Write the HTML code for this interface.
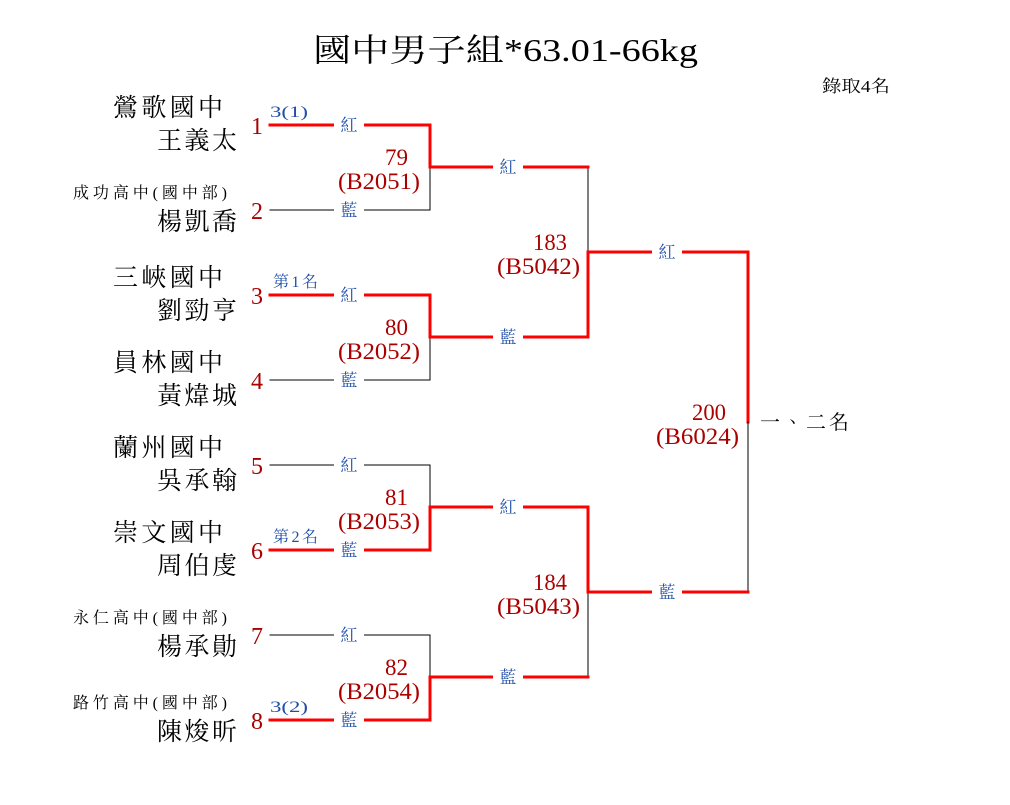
<!DOCTYPE html>
<html><head><meta charset="utf-8"><style>
html,body{margin:0;padding:0;background:#fff;}
svg{display:block;font-family:"Liberation Serif","Noto Serif CJK TC","Noto Serif CJK SC",serif;}
.s{font-size:25px;fill:#000;}
.ss{font-size:16px;fill:#000;}
.n{font-size:24px;fill:#a00;text-anchor:middle;}
.a{font-size:16px;fill:#1f4ea8;}
.l{font-size:17px;fill:#1f4ea8;text-anchor:middle;}
.m{font-size:23px;fill:#a00;}
</style></head><body>
<svg width="1010" height="805" viewBox="0 0 1010 805">
<text x="313" y="61" font-size="32" textLength="385" lengthAdjust="spacingAndGlyphs">國中男子組*63.01-66kg</text>
<text x="822" y="92" font-size="17" textLength="68" lengthAdjust="spacingAndGlyphs">錄取4名</text>

<!-- entries -->
<text class="s" x="113" y="116" textLength="110" lengthAdjust="spacing">鶯歌國中</text><text class="s" x="157" y="149" textLength="80" lengthAdjust="spacing">王義太</text>
<text class="ss" x="73" y="198" textLength="154" lengthAdjust="spacing">成功高中(國中部)</text><text class="s" x="157" y="230" textLength="80" lengthAdjust="spacing">楊凱喬</text>
<text class="s" x="113" y="286" textLength="110" lengthAdjust="spacing">三峽國中</text><text class="s" x="157" y="319" textLength="80" lengthAdjust="spacing">劉勁亨</text>
<text class="s" x="113" y="371" textLength="110" lengthAdjust="spacing">員林國中</text><text class="s" x="157" y="404" textLength="80" lengthAdjust="spacing">黃煒城</text>
<text class="s" x="113" y="456" textLength="110" lengthAdjust="spacing">蘭州國中</text><text class="s" x="157" y="489" textLength="80" lengthAdjust="spacing">吳承翰</text>
<text class="s" x="113" y="541" textLength="110" lengthAdjust="spacing">崇文國中</text><text class="s" x="157" y="574" textLength="80" lengthAdjust="spacing">周伯虔</text>
<text class="ss" x="73" y="623" textLength="154" lengthAdjust="spacing">永仁高中(國中部)</text><text class="s" x="157" y="655" textLength="80" lengthAdjust="spacing">楊承勛</text>
<text class="ss" x="73" y="708" textLength="154" lengthAdjust="spacing">路竹高中(國中部)</text><text class="s" x="157" y="740" textLength="80" lengthAdjust="spacing">陳焌昕</text>

<g>
<text class="n" x="257" y="134">1</text><text class="n" x="257" y="219">2</text>
<text class="n" x="257" y="304">3</text><text class="n" x="257" y="389">4</text>
<text class="n" x="257" y="474">5</text><text class="n" x="257" y="559">6</text>
<text class="n" x="257" y="644">7</text><text class="n" x="257" y="729">8</text>
</g>
<text class="a" x="270" y="117" textLength="38" lengthAdjust="spacingAndGlyphs">3(1)</text>
<text class="a" x="273" y="287" textLength="45" lengthAdjust="spacing">第1名</text>
<text class="a" x="273" y="542" textLength="45" lengthAdjust="spacing">第2名</text>
<text class="a" x="270" y="712" textLength="38" lengthAdjust="spacingAndGlyphs">3(2)</text>

<g fill="none" stroke-linecap="square">
<path d="M270 125H430V167" stroke="#f00" stroke-width="3"/>
<path d="M270 210H430V167" stroke="#000" stroke-width="1"/>
<path d="M270 295H430V337" stroke="#f00" stroke-width="3"/>
<path d="M270 380H430V337" stroke="#000" stroke-width="1"/>
<path d="M270 465H430V507" stroke="#000" stroke-width="1"/>
<path d="M270 550H430V507" stroke="#f00" stroke-width="3"/>
<path d="M270 635H430V677" stroke="#000" stroke-width="1"/>
<path d="M270 720H430V677" stroke="#f00" stroke-width="3"/>
<path d="M430 167H588V252" stroke="#000" stroke-width="1"/>
<path d="M430 167H588" stroke="#f00" stroke-width="3"/>
<path d="M430 337H588V252" stroke="#f00" stroke-width="3"/>
<path d="M430 507H588V592" stroke="#f00" stroke-width="3"/>
<path d="M430 677H588V592" stroke="#000" stroke-width="1"/>
<path d="M430 677H588" stroke="#f00" stroke-width="3"/>
<path d="M588 252H748V422" stroke="#f00" stroke-width="3"/>
<path d="M748 422V592" stroke="#000" stroke-width="1"/>
<path d="M588 592H748" stroke="#f00" stroke-width="3"/>
</g>

<g fill="#fff">
<rect x="334" y="115" width="30" height="20"/><rect x="334" y="200" width="30" height="20"/>
<rect x="334" y="285" width="30" height="20"/><rect x="334" y="370" width="30" height="20"/>
<rect x="334" y="455" width="30" height="20"/><rect x="334" y="540" width="30" height="20"/>
<rect x="334" y="625" width="30" height="20"/><rect x="334" y="710" width="30" height="20"/>
<rect x="493" y="157" width="30" height="20"/><rect x="493" y="327" width="30" height="20"/>
<rect x="493" y="497" width="30" height="20"/><rect x="493" y="667" width="30" height="20"/>
<rect x="652" y="242" width="30" height="20"/><rect x="652" y="582" width="30" height="20"/>
</g>
<g>
<text class="l" x="349" y="131">紅</text><text class="l" x="349" y="216">藍</text>
<text class="l" x="349" y="301">紅</text><text class="l" x="349" y="386">藍</text>
<text class="l" x="349" y="471">紅</text><text class="l" x="349" y="556">藍</text>
<text class="l" x="349" y="641">紅</text><text class="l" x="349" y="726">藍</text>
<text class="l" x="508" y="173">紅</text><text class="l" x="508" y="343">藍</text>
<text class="l" x="508" y="513">紅</text><text class="l" x="508" y="683">藍</text>
<text class="l" x="667" y="258">紅</text><text class="l" x="667" y="598">藍</text>
</g>

<g class="m">
<text class="m" x="385" y="165" textLength="23" lengthAdjust="spacingAndGlyphs">79</text><text class="m" x="338" y="189" textLength="82" lengthAdjust="spacingAndGlyphs">(B2051)</text>
<text class="m" x="385" y="335" textLength="23" lengthAdjust="spacingAndGlyphs">80</text><text class="m" x="338" y="359" textLength="82" lengthAdjust="spacingAndGlyphs">(B2052)</text>
<text class="m" x="385" y="505" textLength="23" lengthAdjust="spacingAndGlyphs">81</text><text class="m" x="338" y="529" textLength="82" lengthAdjust="spacingAndGlyphs">(B2053)</text>
<text class="m" x="385" y="675" textLength="23" lengthAdjust="spacingAndGlyphs">82</text><text class="m" x="338" y="699" textLength="82" lengthAdjust="spacingAndGlyphs">(B2054)</text>
<text class="m" x="533" y="250" textLength="34" lengthAdjust="spacingAndGlyphs">183</text><text class="m" x="497" y="274" textLength="83" lengthAdjust="spacingAndGlyphs">(B5042)</text>
<text class="m" x="533" y="590" textLength="34" lengthAdjust="spacingAndGlyphs">184</text><text class="m" x="497" y="614" textLength="83" lengthAdjust="spacingAndGlyphs">(B5043)</text>
<text class="m" x="692" y="420" textLength="34" lengthAdjust="spacingAndGlyphs">200</text><text class="m" x="656" y="444" textLength="83" lengthAdjust="spacingAndGlyphs">(B6024)</text>
</g>

<text x="760" y="429" font-size="20" textLength="89" lengthAdjust="spacing">一、二名</text>
</svg>
</body></html>
